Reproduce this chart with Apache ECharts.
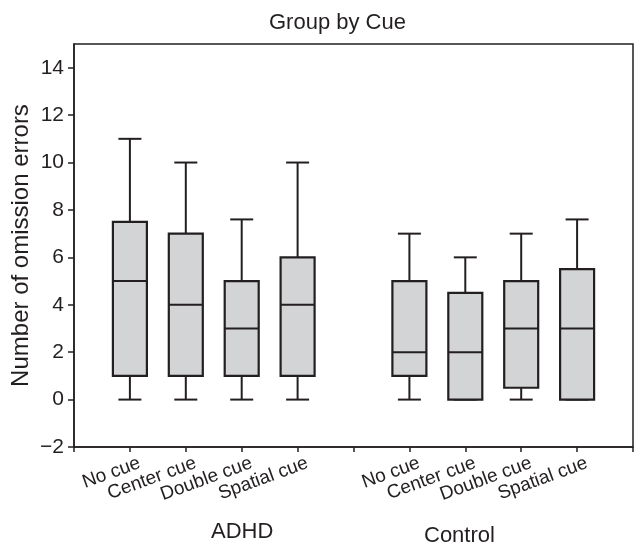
<!DOCTYPE html>
<html lang="en">
<head>
    <meta charset="UTF-8">
    <title>Group by Cue</title>
    <script src="https://cdn.jsdelivr.net/npm/echarts@6.0.0/dist/echarts.min.js"></script>
    <style>
        html, body { margin: 0; padding: 0; background: #fff; }
        #chart { width: 638px; height: 546px; }
    </style>
</head>
<body>
    <div id="chart"></div>

    <script>
        // cue conditions (same for both groups)
        const cueLabels = ['No cue', 'Center cue', 'Double cue', 'Spatial cue'];
        // x slots: empty edge, ADHD cues, gap, Control cues, empty edge
        const categories = [''].concat(cueLabels, [''], cueLabels, ['']);
        const groupNames = ['ADHD', 'Control'];

        // [min, Q1, median, Q3, max] per cue
        const adhdBoxes = [
            [0, 1, 5, 7.5, 11],
            [0, 1, 4, 7, 10],
            [0, 1, 3, 5, 7.6],
            [0, 1, 4, 6, 10]
        ];
        const controlBoxes = [
            [0, 1, 2, 5, 7],
            [0, 0, 2, 4.5, 6],
            [0, 0.5, 3, 5, 7],
            [0, 0, 3, 5.5, 7.6]
        ];

        const yTicks = [-2, 0, 2, 4, 6, 8, 10, 12, 14];

        const font = '"Liberation Sans", Arial, Helvetica, sans-serif';
        const ink = '#231f20';

        // slot index + stats for the custom series
        const boxData = [];
        adhdBoxes.forEach((b, i) => boxData.push([1 + i].concat(b)));
        controlBoxes.forEach((b, i) => boxData.push([6 + i].concat(b)));

        function renderBox(params, api) {
            const idx = api.value(0);
            const pMin = api.coord([idx, api.value(1)]);
            const pQ1 = api.coord([idx, api.value(2)]);
            const pMed = api.coord([idx, api.value(3)]);
            const pQ3 = api.coord([idx, api.value(4)]);
            const pMax = api.coord([idx, api.value(5)]);
            const x = pMin[0];
            const halfBox = 17;
            const halfCap = 11.5;
            const line = { stroke: ink, lineWidth: 2 };
            return {
                type: 'group',
                children: [
                    { type: 'line', shape: { x1: x, y1: pMax[1], x2: x, y2: pQ3[1] }, style: line },
                    { type: 'line', shape: { x1: x, y1: pQ1[1], x2: x, y2: pMin[1] }, style: line },
                    { type: 'line', shape: { x1: x - halfCap, y1: pMax[1], x2: x + halfCap, y2: pMax[1] }, style: line },
                    { type: 'line', shape: { x1: x - halfCap, y1: pMin[1], x2: x + halfCap, y2: pMin[1] }, style: line },
                    {
                        type: 'rect',
                        shape: { x: x - halfBox, y: pQ3[1], width: halfBox * 2, height: pQ1[1] - pQ3[1] },
                        style: { fill: '#d3d4d6', stroke: ink, lineWidth: 2.2 }
                    },
                    { type: 'line', shape: { x1: x - halfBox, y1: pMed[1], x2: x + halfBox, y2: pMed[1] }, style: line }
                ]
            };
        }

        const chart = echarts.init(document.getElementById('chart'));

        const option = {
            backgroundColor: '#fff',
            animation: false,
            title: {
                text: 'Group by Cue',
                left: 264,
                top: 7,
                textStyle: { fontFamily: font, fontSize: 22, fontWeight: 'normal', color: ink }
            },
            grid: {
                left: 74,
                right: 5,
                top: 44,
                bottom: 99,
                outerBoundsMode: 'none',
                show: true,
                borderColor: ink,
                borderWidth: 1.5
            },
            xAxis: {
                type: 'category',
                data: categories,
                boundaryGap: false,
                axisLine: { onZero: false, lineStyle: { color: ink, width: 1.5 } },
                axisTick: { length: 5, lineStyle: { color: ink, width: 1.5 } },
                axisLabel: {
                    interval: 0,
                    rotate: 20,
                    margin: 9,
                    verticalAlign: 'top',
                    padding: [0, -7, 0, 0],
                    fontFamily: font,
                    fontSize: 19,
                    color: ink
                },
                splitLine: { show: false }
            },
            yAxis: {
                type: 'value',
                min: -2,
                max: 15,
                name: 'Number of omission errors',
                nameLocation: 'middle',
                nameGap: 41,
                nameMoveOverlap: false,
                nameTextStyle: { fontFamily: font, fontSize: 24, color: ink },
                axisLine: { show: true, lineStyle: { color: ink, width: 1.5 } },
                axisTick: { show: true, length: 6, customValues: yTicks, lineStyle: { color: ink, width: 1.5 } },
                axisLabel: {
                    customValues: yTicks,
                    margin: 10,
                    fontFamily: font,
                    fontSize: 21,
                    color: ink,
                    formatter: v => String(v).replace('-', '\u2212')
                },
                splitLine: { show: false }
            },
            graphic: [
                {
                    type: 'text', left: 211, top: 521,
                    style: { text: groupNames[0], font: '22px ' + font, fill: ink }
                },
                {
                    type: 'text', left: 424, top: 525,
                    style: { text: groupNames[1], font: '22px ' + font, fill: ink }
                }
            ],
            series: [{
                type: 'custom',
                renderItem: renderBox,
                encode: { x: 0, y: [1, 2, 3, 4, 5] },
                data: boxData
            }]
        };

        chart.setOption(option);
    </script>
</body>
</html>
